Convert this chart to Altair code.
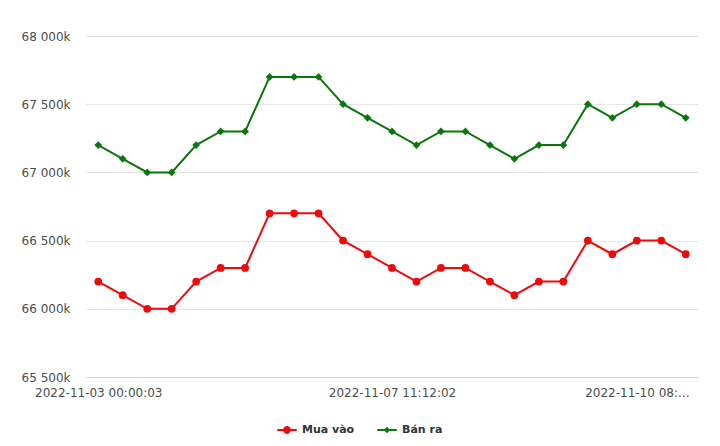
import altair as alt
import pandas as pd

times = [
    "2022-11-03 00:00:03", "2022-11-03 08:30:00", "2022-11-03 14:00:00",
    "2022-11-04 08:30:00", "2022-11-04 14:00:00", "2022-11-05 08:30:00",
    "2022-11-05 14:00:00", "2022-11-06 08:30:00", "2022-11-06 14:00:00",
    "2022-11-07 00:00:02", "2022-11-07 08:30:00", "2022-11-07 10:00:00",
    "2022-11-07 11:12:02", "2022-11-07 14:00:00", "2022-11-08 08:30:00",
    "2022-11-08 14:00:00", "2022-11-09 08:30:00", "2022-11-09 10:30:00",
    "2022-11-09 14:00:00", "2022-11-09 16:00:00", "2022-11-10 00:00:02",
    "2022-11-10 04:00:00", "2022-11-10 08:30:00", "2022-11-10 14:00:00",
    "2022-11-11 08:30:00",
]
mua_vao = [66200, 66100, 66000, 66000, 66200, 66300, 66300, 66700, 66700, 66700,
           66500, 66400, 66300, 66200, 66300, 66300, 66200, 66100, 66200, 66200,
           66500, 66400, 66500, 66500, 66400]
ban_ra = [67200, 67100, 67000, 67000, 67200, 67300, 67300, 67700, 67700, 67700,
          67500, 67400, 67300, 67200, 67300, 67300, 67200, 67100, 67200, 67200,
          67500, 67400, 67500, 67500, 67400]
series_names = ["Mua vào", "Bán ra"]
series_colors = ["#ee0a0a", "#0b760b"]
y_ticks = [65500, 66000, 66500, 67000, 67500, 68000]
x_label_values = [times[0], times[12], times[22]]

rows = []
for t, a, b in zip(times, mua_vao, ban_ra):
    rows.append({"time": t, "series": series_names[0], "value": a})
    rows.append({"time": t, "series": series_names[1], "value": b})
df = pd.DataFrame(rows)

FONT = "DejaVu Sans"
LABEL_COLOR = "#4d4d4d"

x_enc = alt.X(
    "time:N",
    sort=times,
    scale=alt.Scale(type="point", padding=0.5),
    axis=alt.Axis(
        title=None,
        values=x_label_values,
        labelAngle=0,
        labelExpr="datum.value == '" + times[22] + "' ? '2022-11-10 08:...' : datum.value",
        labelFont=FONT,
        labelFontSize=12,
        labelColor=LABEL_COLOR,
        labelPadding=10,
        ticks=False,
        domain=True,
        domainColor="#ccd6eb",
        domainWidth=1,
        grid=False,
    ),
)
y_enc = alt.Y(
    "value:Q",
    scale=alt.Scale(domain=[65500, 68000], nice=False, zero=False),
    axis=alt.Axis(
        title=None,
        values=y_ticks,
        labelExpr="replace(format(datum.value, ',d'), ',', ' ') + 'k'",
        labelFont=FONT,
        labelFontSize=12,
        labelColor=LABEL_COLOR,
        labelPadding=16,
        ticks=False,
        domain=False,
        grid=True,
        gridColor="#e6e6e6",
        gridWidth=1,
    ),
)
color_enc = alt.Color("series:N", scale=alt.Scale(domain=series_names, range=series_colors), legend=None)

base = alt.Chart(df)

lines = base.mark_line(strokeWidth=2).encode(x=x_enc, y=y_enc, color=color_enc, detail="series:N")

pts_red = base.transform_filter(alt.datum.series == series_names[0]).mark_point(
    shape="circle", filled=True, size=60, opacity=1, strokeWidth=0
).encode(x=x_enc, y=y_enc, color=color_enc)

pts_green = base.transform_filter(alt.datum.series == series_names[1]).mark_point(
    shape="diamond", filled=True, size=60, opacity=1, strokeWidth=0
).encode(x=x_enc, y=y_enc, color=color_enc)

legend_circle = ("M-1,-0.1 L1,-0.1 L1,0.1 L-1,0.1 Z "
                 "M-0.4,0 A0.4,0.4 0 1,1 0.4,0 A0.4,0.4 0 1,1 -0.4,0 Z")
legend_diamond = ("M-1,-0.1 L1,-0.1 L1,0.1 L-1,0.1 Z "
                  "M0,-0.33 L0.33,0 L0,0.33 L-0.33,0 Z")


def legend_entry(idx, symbol_path, legend_x):
    field = "legend_%d" % idx
    return base.transform_filter("false").transform_calculate(
        **{field: "'%s'" % series_names[idx]}
    ).mark_point(filled=True, size=380, opacity=1, color=series_colors[idx]).encode(
        x=x_enc,
        y=y_enc,
        shape=alt.Shape(
            field + ":N",
            scale=alt.Scale(domain=[series_names[idx]], range=[symbol_path]),
            legend=alt.Legend(
                title=None,
                orient="none",
                legendX=legend_x,
                legendY=384,
                direction="horizontal",
                labelFont=FONT,
                labelFontSize=11,
                labelFontWeight="bold",
                labelColor="#333333",
                symbolSize=380,
                symbolStrokeWidth=0,
                symbolOpacity=1,
                symbolFillColor=series_colors[idx],
                labelOffset=5,
            ),
        ),
    )


leg_red = legend_entry(0, legend_circle, 191)
leg_green = legend_entry(1, legend_diamond, 291)

chart = alt.layer(lines, pts_red, pts_green, leg_red, leg_green).resolve_scale(
    shape="independent"
).resolve_legend(shape="independent").properties(
    width=612,
    height=341,
    background="white",
    autosize=alt.AutoSizeParams(type="none"),
    padding={"left": 86, "top": 36, "right": 22, "bottom": 69},
).configure_view(stroke=None)

chart.save("out.html", embed_options={"renderer": "svg", "actions": False})
